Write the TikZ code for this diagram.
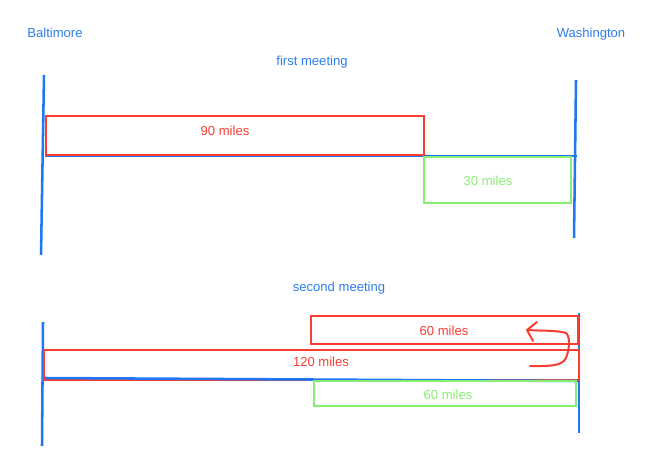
\documentclass[tikz,border=0pt]{standalone}
\usepackage{fontspec}
\setmainfont{Liberation Sans}
\usepackage{xcolor}
\usetikzlibrary{positioning,calc}
\definecolor{cityblue}{RGB}{30,120,245}
\definecolor{txtblue}{RGB}{45,125,240}
\definecolor{legred}{RGB}{250,60,50}
\definecolor{leggreen}{RGB}{135,238,115}
\tikzset{
    town/.style={cityblue,line width=1.9pt},
    redleg/.style={legred,line width=2.2pt},
    greenleg/.style={leggreen,line width=2.2pt},
    lbl/.style={font=\fontsize{9.8}{12}\selectfont,inner sep=0pt}
}

\begin{document}
\begin{tikzpicture}[x=0.75pt,y=-0.75pt]
    \useasboundingbox (0,0) rectangle (648,457);
    \node[lbl,txtblue] (balt) at (55,33) {Baltimore}; %label
    \node[lbl,txtblue] (wash) at (591,34) {Washington}; %label
    \node[lbl,txtblue] (first) at (312,62) {first meeting}; %label
    \node[lbl,txtblue] (second) at (339,288) {second meeting}; %label
    % first meeting
    \draw[town] (44,75) -- (41,255);
    \draw[town] (576,80) -- (574,238);
    \draw[town] (45,156) -- (577,156);
    \draw[redleg] (46,116) rectangle (424,155);
    \draw[greenleg] (424,157) rectangle (571,203);
    \node[lbl,legred] (ninety) at (225,131) {90 miles}; %label
    \node[lbl,leggreen] (thirty) at (488,181) {30 miles}; %label
    % second meeting
    \draw[town] (43,322) -- (42,446);
    \draw[town] (579,313) -- (579,433);
    \draw[redleg] (311,316) rectangle (578,344);
    \draw[redleg] (44,350) rectangle (579,380);
    \draw[town] (45,378) -- (578,381);
    \draw[greenleg] (314,381) rectangle (576,406);
    \node[lbl,legred] (sixtyA) at (444,331) {60 miles}; %label
    \node[lbl,legred] (onetwenty) at (321,362) {120 miles}; %label
    \node[lbl,leggreen] (sixtyB) at (448,395) {60 miles}; %label
    % turn back
    \draw[legred,line width=1.5pt,line cap=round,line join=round]
        (530,366) .. controls (545,366) and (562,367) .. (566,358)
        .. controls (570,348) and (570,336) .. (566,333)
        .. controls (556,330) and (540,331) .. (528,330);
    \draw[legred,line width=1.5pt,line cap=round,line join=round]
        (537,322) -- (527,330) -- (533,341);
\end{tikzpicture}
\end{document}
